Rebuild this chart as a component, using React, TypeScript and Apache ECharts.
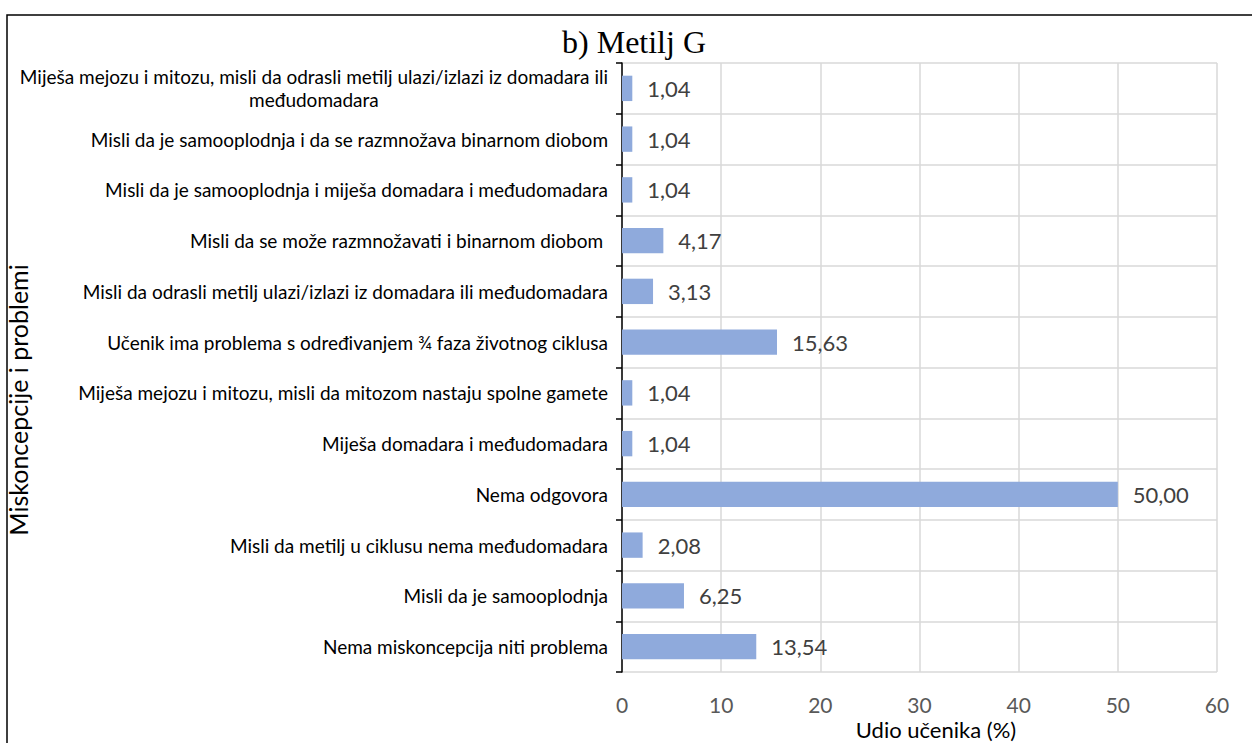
import React, { useEffect, useRef } from 'react';
import * as echarts from 'echarts';

const categories: string[] = [
  'Miješa mejozu i mitozu, misli da odrasli metilj ulazi/izlazi iz domadara ili\nmeđudomadara',
  'Misli da je samooplodnja i da se razmnožava binarnom diobom',
  'Misli da je samooplodnja i miješa domadara i međudomadara',
  'Misli da se može razmnožavati i binarnom diobom ',
  'Misli da odrasli metilj ulazi/izlazi iz domadara ili međudomadara',
  'Učenik ima problema s određivanjem ¾ faza životnog ciklusa',
  'Miješa mejozu i mitozu, misli da mitozom nastaju spolne gamete',
  'Miješa domadara i međudomadara',
  'Nema odgovora',
  'Misli da metilj u ciklusu nema međudomadara',
  'Misli da je samooplodnja',
  'Nema miskoncepcija niti problema',
];
const values: number[] = [1.04, 1.04, 1.04, 4.17, 3.13, 15.63, 1.04, 1.04, 50.0, 2.08, 6.25, 13.54];
const xMin = 0;
const xMax = 60;
const xStep = 10;

const titleText = 'b) Metilj G';
const xAxisTitle = 'Udio učenika (%)';
const yAxisTitle = 'Miskoncepcije i problemi';

const SANS = 'Lato, "Open Sans", sans-serif';

export default function App() {
  const ref = useRef<HTMLDivElement>(null);
  useEffect(() => {
    if (!ref.current) return;
    const chart = echarts.init(ref.current, null, { renderer: 'svg' });
    chart.setOption({
      animation: false,
      backgroundColor: '#fff',
      grid: { left: 622, right: 35, top: 63, bottom: 71 },
      graphic: [
        {
          type: 'rect',
          silent: true,
          z: -10,
          shape: { x: 7, y: 15, width: 1400, height: 1000 },
          style: { fill: 'none', stroke: '#000', lineWidth: 1.5 },
        },
        {
          type: 'text',
          x: 634,
          y: 42,
          style: {
            text: titleText,
            font: '32px "Liberation Serif", "Times New Roman", serif',
            fill: '#000',
            align: 'center',
            verticalAlign: 'middle',
          },
        },
        {
          type: 'text',
          x: 18,
          y: 400,
          rotation: Math.PI / 2,
          style: {
            text: yAxisTitle,
            font: '25px ' + SANS,
            fill: '#000',
            align: 'center',
            verticalAlign: 'middle',
          },
        },
        {
          type: 'text',
          x: 936,
          y: 729,
          style: {
            text: xAxisTitle,
            font: '22px ' + SANS,
            fill: '#000',
            align: 'center',
            verticalAlign: 'middle',
          },
        },
      ],
      xAxis: {
        type: 'value',
        min: xMin,
        max: xMax,
        interval: xStep,
        axisLine: { show: false },
        axisTick: { show: false },
        axisLabel: { color: '#595959', fontSize: 21, fontFamily: SANS, margin: 22 },
        splitLine: { show: true, lineStyle: { color: '#d9d9d9', width: 1.5 } },
      },
      yAxis: {
        type: 'category',
        data: categories,
        inverse: true,
        axisLine: { show: true, lineStyle: { color: '#000', width: 1.5 } },
        axisTick: { show: true, length: 6, lineStyle: { color: '#000', width: 1.5 } },
        axisLabel: {
          color: '#000',
          fontSize: 19,
          fontFamily: SANS,
          margin: 14,
          formatter: (v: string) => v.split('\n').map((l) => `{c|${l}}`).join('\n'),
          rich: {
            c: { align: 'center', color: '#000', fontSize: 19, fontFamily: SANS, lineHeight: 23 },
          },
        },
        splitLine: { show: true, lineStyle: { color: '#d9d9d9', width: 1.5 } },
      },
      series: [
        {
          type: 'bar',
          data: values,
          barWidth: '50%',
          itemStyle: { color: '#8FAADC' },
          label: {
            show: true,
            position: 'right',
            distance: 15,
            color: '#404040',
            fontSize: 22,
            fontFamily: SANS,
            formatter: (p: any) => Number(p.value).toFixed(2).replace('.', ','),
          },
        },
      ],
    });
    return () => chart.dispose();
  }, []);
  return (
    <div
      ref={ref}
      style={{ position: 'absolute', left: 0, top: 0, width: 1252, height: 743 }}
    />
  );
}
